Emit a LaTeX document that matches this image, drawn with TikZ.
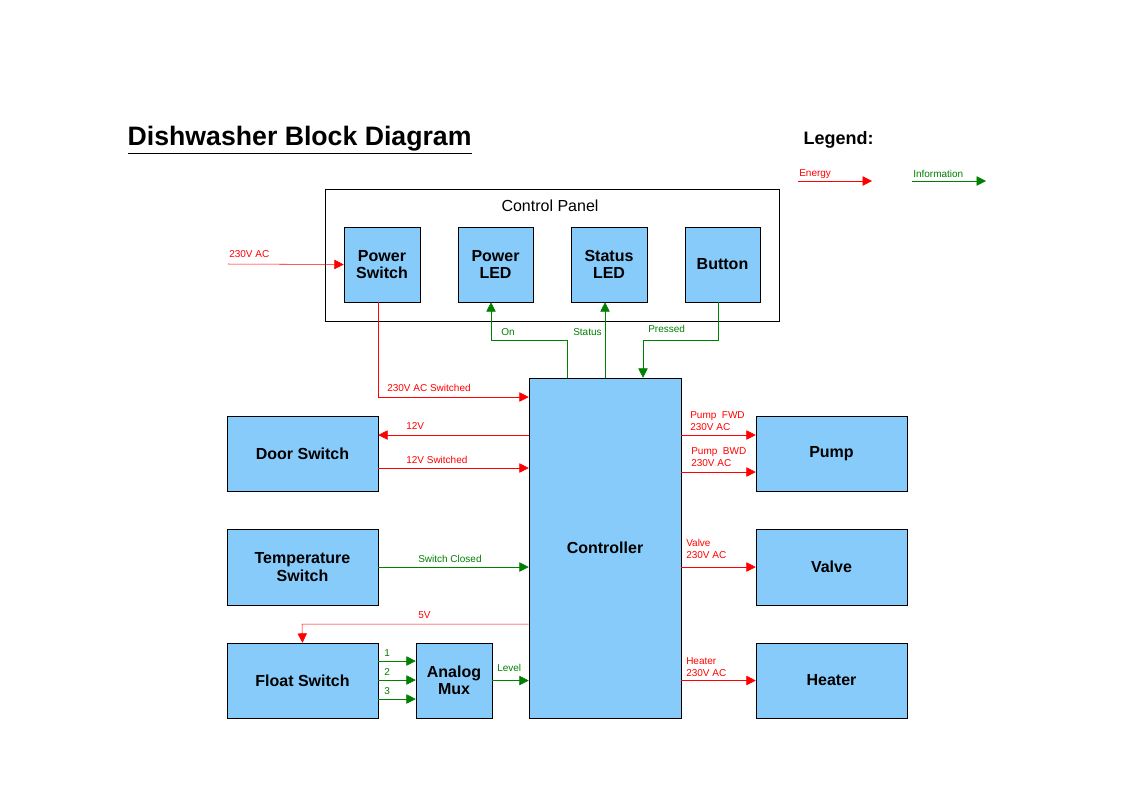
\documentclass[tikz,border=0pt]{standalone}
\usepackage{fontspec}
\setmainfont{Liberation Sans}
\usetikzlibrary{arrows.meta}
\definecolor{blockblue}{HTML}{87CBFB}
\definecolor{energy}{HTML}{FF0000}
\definecolor{info}{HTML}{008000}
\tikzset{
  block/.style={draw=black, fill=blockblue, font=\fontsize{12}{13}\selectfont\bfseries, align=center, inner sep=0pt},
  en/.style={energy, -{Triangle[length=7pt,width=7pt]}},
  inf/.style={info, -{Triangle[length=7pt,width=7pt]}},
  lbl/.style={font=\fontsize{7.5}{8.5}\selectfont, anchor=west, inner sep=0pt, align=left},
}
\newcommand{\blk}[6]{\node[block, minimum width=#4*0.75pt, minimum height=#5*0.75pt] (#1) at (#2,#3) {#6};}
\begin{document}
\begin{tikzpicture}[x=0.75pt,y=-0.75pt]
    \useasboundingbox (0,0) rectangle (1123,794);
    %Title and legend
    \node[anchor=west, font=\fontsize{20}{22}\selectfont\bfseries] (title) at (123,140) {\underline{Dishwasher Block Diagram}};
    \node[anchor=west, font=\fontsize{13.5}{15}\selectfont\bfseries] (legend) at (799,140) {Legend:};
    \coordinate (e1) at (798,181); \coordinate (e2) at (872,181);
    \coordinate (i1) at (912,181); \coordinate (i2) at (986,181);
    \draw[en] (e1) -- (e2);
    \draw[inf] (i1) -- (i2);
    \node[lbl, energy] at (799,174) {Energy};
    \node[lbl, info] at (913,174) {Information};
    %Control panel
    \node[draw=black, minimum width=454*0.75pt, minimum height=132*0.75pt, inner sep=0pt] (panel) at (552,255) {};
    \node[font=\fontsize{12}{13}\selectfont] at (550,206) {Control Panel};
    \blk{pswitch}{382}{264.5}{76}{75}{Power\\Switch}
    \blk{pled}{495.5}{264.5}{75}{75}{Power\\LED}
    \blk{sled}{609}{264.5}{76}{75}{Status\\LED}
    \blk{button}{722.5}{264.5}{75}{75}{Button}
    %Main blocks
    \blk{ctrl}{605}{548}{152}{340}{Controller}
    \blk{door}{302.5}{453.5}{151}{75}{Door Switch}
    \blk{temp}{302.5}{567}{151}{76}{Temperature\\Switch}
    \blk{float}{302.5}{680.5}{151}{75}{Float Switch}
    \blk{mux}{454}{680.5}{76}{75}{Analog\\Mux}
    \blk{pump}{831.5}{453.5}{151}{75}{Pump}
    \blk{valve}{831.5}{567}{151}{76}{Valve}
    \blk{heater}{831.5}{680.5}{151}{75}{Heater}
    %Power in
    \coordinate (mains) at (228,264);
    \draw[en] (mains) -- (pswitch.west);
    \node[lbl, energy] at (229,254) {230V AC};
    \draw[en] (pswitch.south -| 378,0) -- (378,397) -- (ctrl.west |- 0,397);
    \node[lbl, energy] at (387,388) {230V AC Switched};
    %Panel signals
    \draw[inf] (ctrl.north -| 567,0) -- (567,340) -- (491,340) -- (pled.south -| 491,0);
    \node[lbl, info] at (501,332) {On};
    \draw[inf] (ctrl.north -| 605,0) -- (sled.south -| 605,0);
    \node[lbl, info] at (573,332) {Status};
    \draw[inf] (button.south -| 718,0) -- (718,340) -- (643,340) -- (ctrl.north -| 643,0);
    \node[lbl, info] at (648,329) {Pressed};
    %Left side
    \draw[en] (ctrl.west |- 0,435) -- (door.east |- 0,435);
    \node[lbl, energy] at (406,426) {12V};
    \draw[en] (door.east |- 0,468) -- (ctrl.west |- 0,468);
    \node[lbl, energy] at (406,460) {12V Switched};
    \draw[inf] (temp.east) -- (ctrl.west |- temp.east);
    \node[lbl, info] at (418,559) {Switch Closed};
    \draw[en] (ctrl.west |- 0,624) -- (302,624) -- (float.north);
    \node[lbl, energy] at (418,615) {5V};
    \foreach \y/\n in {661/1,680/2,699/3} {
        \draw[inf] (float.east |- 0,\y) -- (mux.west |- 0,\y);
        \node[lbl, info] at (384,\y-8) {\n};
    }
    \draw[inf] (mux.east) -- (ctrl.west |- mux.east);
    \node[lbl, info] at (497,668) {Level};
    %Right side
    \draw[en] (ctrl.east |- 0,435) -- (pump.west |- 0,435);
    \node[lbl, energy] at (690,421) {Pump\ \ FWD\\230V AC};
    \draw[en] (ctrl.east |- 0,472) -- (pump.west |- 0,472);
    \node[lbl, energy] at (691,457) {Pump\ \ BWD\\230V AC};
    \draw[en] (ctrl.east |- valve.west) -- (valve.west);
    \node[lbl, energy] at (686,549) {Valve\\230V AC};
    \draw[en] (ctrl.east |- heater.west) -- (heater.west);
    \node[lbl, energy] at (686,667) {Heater\\230V AC};
\end{tikzpicture}
\end{document}
